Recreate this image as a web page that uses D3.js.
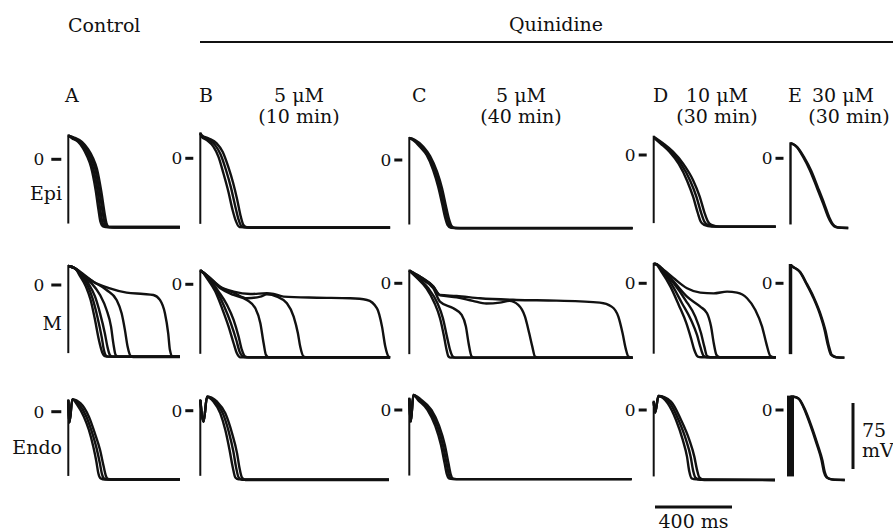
<!DOCTYPE html>
<html>
<head>
<meta charset="utf-8">
<script src="https://cdn.jsdelivr.net/npm/d3@7"></script>
<style>
  body { margin: 0; background: #fff; }
  svg { display: block; }
  text { font-family: "DejaVu Serif", serif; fill: #111; }
</style>
</head>
<body>
<svg width="893" height="532"></svg>
<script>
// ---- labels ----
var columns = ["A", "B", "C", "D", "E"];
var doses = ["", "5 \u03bcM", "5 \u03bcM", "10 \u03bcM", "30 \u03bcM"];
var doseTimes = ["", "(10 min)", "(40 min)", "(30 min)", "(30 min)"];
var rowNames = ["Epi", "M", "Endo"];
var scaleBarMs = 400, scaleBarMv = 75;

// record length of each column (ms)
var recordMs = [580, 986, 1160, 634, 300];

// ---- traces, [ms, mV] ----
var epiA = [
  [[0,27],[19,24],[50,20],[76,12.8],[97,3.8],[118,-8.7],[142,-35],[157,-57.6],[167,-71],[180,-76.1],[206,-77],[580,-77]],
  [[0,27],[22,24.2],[57,19.9],[85,12.5],[107,3],[128,-9.5],[152,-35.8],[167,-58.5],[177,-71.5],[190,-76.4],[216,-77],[580,-77]],
  [[0,27],[26,24.5],[64,19.8],[93,12],[118,2.2],[139,-10.2],[162,-36.6],[178,-59.6],[188,-72],[201,-76.8],[227,-77.3],[580,-77.3]],
  [[0,27],[30,24.8],[71,19.7],[102,11.7],[128,1.5],[149,-11],[172,-37.5],[188,-60.6],[198,-72.4],[211,-77],[237,-77.5],[580,-77.5]]
];
var epiB = [
  [[0,28.4],[7,24.5],[33,20.8],[68,13.2],[94,1.9],[120,-17],[146,-38],[168,-59],[186,-72],[203,-78],[258,-78.5],[986,-78.5]],
  [[0,28.4],[7,25.5],[38,21.8],[77,15],[105,4.6],[133,-13],[159,-33],[180,-53],[198,-69],[213,-77],[230,-78.4],[270,-78.7],[986,-78.7]],
  [[0,28.4],[7,26.5],[42,22.7],[85,17],[116,7.4],[145,-9.5],[171,-28.4],[192,-47.3],[210,-66],[224,-75.8],[241,-78.4],[284,-79],[986,-79]]
];
var epiC = [
  [[0,25],[19,22.7],[55,15.1],[90,5.7],[124,-11.4],[150,-30.3],[170,-49.2],[185,-64.4],[199,-73.9],[216,-77],[263,-77.3],[1160,-77.3]],
  [[0,25],[25,22.7],[64,15.1],[99,5.1],[134,-12.3],[160,-31.2],[180,-50.1],[195,-65.3],[210,-74.5],[227,-77.1],[276,-77.4],[1160,-77.4]],
  [[0,25],[30,22.7],[73,15.1],[108,4.5],[144,-13.3],[170,-32.2],[189,-51.1],[205,-66.3],[220,-75],[238,-77.3],[290,-77.6],[1160,-77.6]]
];
var epiD = [
  [[0,19.9],[36,13],[83,3.4],[130,-10.2],[174,-29.5],[205,-47.7],[229,-65.9],[244,-75.6],[262,-79.5],[301,-81.4],[634,-81.4]],
  [[0,20.3],[42,13.1],[92,3.6],[141,-9.8],[189,-29],[222,-47.5],[247,-66.1],[263,-75.7],[281,-79.5],[322,-81.4],[634,-81.4]],
  [[0,20.8],[48,13.3],[100,3.8],[152,-9.5],[204,-28.4],[239,-47.3],[265,-66.3],[282,-75.8],[300,-79.5],[343,-81.4],[634,-81.4]]
];
var epiE = [
  [[0,17],[5,17],[31,13.2],[65,1.8],[100,-13.3],[135,-32.2],[169,-51.1],[195,-66.3],[213,-73.9],[239,-78.4],[300,-79.2]],
  [[0,17],[8,16.5],[36,12.5],[71,1],[107,-14],[142,-33],[176,-52],[201,-67],[219,-74.5],[245,-78.6],[300,-79.2]]
];
var mA = [
  [[0,21.6],[35,18.9],[61,10.2],[92,-1.9],[116,-17],[139,-39.8],[159,-62.5],[175,-75.8],[190,-80.7],[208,-81.4],[580,-81.4]],
  [[0,21.6],[35,18.9],[69,10.2],[99,0],[126,-15.2],[151,-36],[173,-58.7],[185,-73.9],[199,-80.7],[216,-81.4],[580,-81.4]],
  [[0,21.6],[35,18.9],[69,11.4],[104,1.9],[139,-13.3],[165,-32.2],[190,-55],[203,-70],[216,-79.5],[230,-81.4],[580,-81.4]],
  [[0,21.6],[35,18.9],[78,9.5],[121,1.9],[165,-11.4],[199,-28.4],[222,-47.3],[234,-66.3],[246,-79.5],[260,-81.4],[580,-81.4]],
  [[0,21.6],[35,18.9],[78,11.4],[130,3.8],[199,-5.7],[251,-17],[277,-32.2],[294,-51],[308,-70],[324,-80.7],[338,-81.8],[580,-81.8]],
  [[0,21.6],[35,18.9],[61,15.2],[130,3.8],[216,-3.8],[303,-8.7],[390,-10.2],[442,-11.4],[476,-17],[502,-32.2],[519,-55],[528,-73.9],[542,-81.4],[580,-81.4]]
];
var mB = [
  [[0,15.5],[8.7,14.4],[35,6.8],[78,-8.3],[113,-27.3],[147,-48.1],[173,-67],[190,-78.4],[208,-83],[986,-83]],
  [[0,15.5],[8.7,14.4],[38,6.8],[87,-8.3],[125,-25.4],[159,-44.3],[187,-63.3],[204,-76.5],[222,-82.2],[239,-83],[986,-83]],
  [[0,15.5],[8.7,14.4],[43,6.8],[95,-8.3],[139,-23.5],[173,-40.5],[199,-59.5],[216,-74.6],[234,-82.2],[251,-83],[986,-83]],
  [[0,15.5],[8.7,14.4],[43,8],[104,-4.5],[173,-12.1],[242,-17.8],[286,-27.3],[312,-44.3],[329,-67],[341,-80.3],[355,-83],[986,-83]],
  [[0,15.5],[8.7,14.4],[43,8.7],[104,-3.4],[173,-9.5],[242,-15.9],[312,-14],[346,-11.4],[398,-14],[450,-21.6],[485,-36.7],[507,-55.7],[519,-70.8],[537,-82.2],[554,-83],[986,-83]],
  [[0,15.5],[8.7,14.4],[43,8.7],[104,-2.7],[173,-8.3],[260,-11],[346,-10.2],[381,-11],[433,-14],[606,-15.2],[779,-15.9],[866,-17.8],[918,-27.3],[944,-48.1],[961,-70.8],[978,-82.2],[986,-83]]
];
var mC = [
  [[0,14.4],[40,6],[90,-6],[130,-22],[160,-40],[180,-60],[193,-75],[203,-83],[215,-84.5],[1160,-84.5]],
  [[0,14.4],[45,6],[100,-6],[145,-22],[175,-40],[197,-62],[212,-76],[225,-83],[240,-84.5],[1160,-84.5]],
  [[0,14.4],[55,5.7],[125,-5.7],[159,-20.8],[229,-28.4],[272,-36],[294,-49.2],[308,-68.2],[324,-83.3],[340,-84.5],[1160,-84.5]],
  [[0,14.4],[55,7.6],[125,-3.8],[159,-13.5],[246,-16],[330,-20],[400,-23],[470,-22],[520,-20],[566,-24.6],[601,-37.9],[623,-56.8],[639,-72],[653,-83.3],[670,-84.5],[1160,-84.5]],
  [[0,14.4],[55,7.6],[125,-3.8],[159,-13.3],[246,-14.4],[367,-17],[557,-18.9],[765,-19.7],[990,-22],[1051,-26.5],[1086,-37.9],[1108,-56.8],[1124,-73.9],[1138,-83.3],[1155,-84.5],[1160,-84.5]]
];
var mD = [
  [[0,22],[8.7,22],[43,12.1],[87,-3.8],[130,-24.6],[170,-45.5],[194,-62.5],[211,-75.8],[229,-83.3],[246,-84],[634,-84]],
  [[0,22],[8.7,22],[48,13.3],[95,-1.9],[147,-22.7],[194,-41.7],[225,-58.7],[242,-72],[260,-82.6],[277,-84],[634,-84]],
  [[0,22],[8.7,22],[52,13.3],[104,0],[165,-19],[216,-37.9],[246,-56.8],[263,-72],[277,-82.6],[294,-84],[634,-84]],
  [[0,22],[8.7,22],[52,14.4],[104,1.9],[173,-15.2],[242,-26.5],[277,-34],[298,-49.2],[312,-68.2],[326,-81.4],[343,-84],[634,-84]],
  [[0,22],[8.7,22],[52,15.2],[104,5.7],[173,-5.7],[242,-10.6],[312,-11.4],[381,-9.5],[433,-10.6],[485,-17],[528,-30.3],[563,-49.2],[585,-68.2],[606,-82.6],[623,-84],[634,-84]]
];
var mE = [
  [[0,20.8],[12,18.9],[47,13.3],[81,0],[116,-15.2],[151,-34],[177,-53],[194,-70],[211,-81.4],[237,-84],[280,-84.5]],
  [[0,20.8],[14,18.5],[51,12.5],[86,-1],[121,-16],[156,-35],[182,-54],[199,-71],[216,-81.8],[242,-84.2],[280,-84.5]]
];
var endoA = [
  [[0,13],[6,-12],[21,14],[47,7.6],[81,-5.7],[107,-20.8],[130,-39.8],[146,-56.8],[156,-70],[168,-75.8],[190,-77],[580,-77]],
  [[0,13],[6,-12],[21,14],[55,8.6],[94,-5.7],[122,-22.7],[147,-41.7],[164,-58.7],[175,-71],[187,-76.2],[208,-77],[580,-77]],
  [[0,13],[6,-12],[21,14],[64,9.5],[107,-5.7],[138,-24.6],[165,-43.6],[182,-60.6],[194,-72],[206,-76.5],[225,-77],[580,-77]]
];
var endoB = [
  [[0,12],[17,-12.5],[35,15.9],[69,10.2],[104,-3],[130,-22],[152,-44.7],[168,-63.6],[182,-75.8],[199,-78],[980,-78]],
  [[0,12],[17,-12.5],[35,15.9],[78,10.2],[117,-3],[148,-24],[172,-46.6],[186,-64.5],[199,-75.8],[216,-78.4],[980,-78.4]],
  [[0,12],[17,-12.5],[35,15.9],[87,10.2],[130,-3],[165,-25.8],[191,-48.5],[204,-65.5],[216,-75.8],[234,-78.8],[980,-78.8]]
];
var endoC = [
  [[0,13],[8,-13],[21,17],[47,11],[95,0],[135,-18],[165,-40],[183,-60],[195,-73],[208,-78],[225,-78.5],[1155,-78.5]],
  [[0,13],[8,-13],[21,17],[53,11.5],[105,0],[145,-18],[175,-40],[193,-60],[205,-73],[218,-78],[235,-78.5],[1155,-78.5]],
  [[0,13],[8,-13],[21,17],[60,12],[115,0],[155,-18],[185,-40],[203,-60],[215,-73],[228,-78],[245,-78.5],[1155,-78.5]]
];
var endoD = [
  [[0,9.5],[7,-3],[25,15.9],[73,7.6],[116,-11.4],[151,-34],[173,-53],[185,-70],[197,-77.7],[220,-78.8],[630,-79.5]],
  [[0,9.5],[7,-3],[25,15.9],[82,8.5],[129,-11.4],[168,-34],[192,-53],[205,-69],[217,-77],[241,-79.2],[630,-79.5]],
  [[0,9.5],[7,-3],[25,15.9],[90,9.5],[142,-11.4],[185,-34],[211,-53],[225,-68],[237,-76.5],[263,-79.5],[630,-79.5]]
];
var endoE = [
  [[0,15.2],[14,15.2],[40,13.3],[66,3.8],[100,-15.2],[135,-37.9],[161,-56.8],[173,-70],[187,-76.5],[213,-78.8],[282,-79.5]],
  [[0,15.2],[16,15],[44,12.6],[70,3],[105,-16],[140,-38.7],[166,-57.5],[178,-70.5],[192,-77],[218,-79],[282,-79.5]]
];
var traces = [
  [epiA, epiB, epiC, epiD, epiE],
  [mA, mB, mC, mD, mE],
  [endoA, endoB, endoC, endoD, endoE]
];

// ---- layout ----
var MS_PX = 0.1925, MV_PX = 0.88;
var colX = [68.3, 200.3, 409.3, 653.7, 790.5];
var zeroY = [
  [159.3, 158.3, 160, 155, 158.3],
  [285, 284.3, 283.3, 283.3, 283.3],
  [411.7, 410.7, 410, 410, 410]
];
var rowLabelY = [200, 330, 454];
var upstrokeWidth = [[2,2,2,2,2.4],[2,2,2,2,3.5],[2,2,2,2,7]];

var svg = d3.select("svg");

/*  HEADER  */
svg.append("text").attr("x", 68).attr("y", 32).style("font-size", "19px").text("Control");
svg.append("text").attr("x", 556).attr("y", 31).attr("text-anchor", "middle").style("font-size", "19px").text("Quinidine");
svg.append("line").attr("x1", 200).attr("x2", 893).attr("y1", 42).attr("y2", 42)
  .attr("stroke", "#111").attr("stroke-width", 2);

var letterX = [65, 199, 412, 653, 788];
var doseX = [0, 299, 521, 717, 843];
var doseTimeX = [0, 299, 521, 717, 849];
columns.forEach(function(c, i) {
  svg.append("text").attr("x", letterX[i]).attr("y", 102).style("font-size", "19px").text(c);
  if (doses[i]) {
    svg.append("text").attr("x", doseX[i]).attr("y", 102).attr("text-anchor", "middle")
      .style("font-size", "19px").text(doses[i]);
    svg.append("text").attr("x", doseTimeX[i]).attr("y", 123).attr("text-anchor", "middle")
      .style("font-size", "19px").text(doseTimes[i]);
  }
});

rowNames.forEach(function(r, i) {
  svg.append("text").attr("x", 62).attr("y", rowLabelY[i]).attr("text-anchor", "end")
    .style("font-size", "19px").text(r);
});

/*  PANELS  */
function drawPanel(r, c) {
  var data = traces[r][c];
  var x = d3.scaleLinear().domain([0, recordMs[c]]).range([colX[c], colX[c] + recordMs[c] * MS_PX]);
  var y = d3.scaleLinear().domain([0, -75]).range([zeroY[r][c], zeroY[r][c] + 75 * MV_PX]);
  var g = svg.append("g");

  var peak = d3.max(data, function(t) { return t[0][1]; });
  var rest = d3.max(data, function(t) { return t[t.length - 1][1]; });
  g.append("line")
    .attr("x1", x(0)).attr("x2", x(0))
    .attr("y1", y(rest + 4)).attr("y2", y(peak) - 1)
    .attr("stroke", "#111").attr("stroke-width", upstrokeWidth[r][c]);

  var line = d3.line()
    .x(function(d) { return x(d[0]); })
    .y(function(d) { return y(d[1]); })
    .curve(d3.curveMonotoneX);

  g.selectAll("path").data(data).enter().append("path")
    .attr("d", line)
    .attr("fill", "none")
    .attr("stroke", "#111")
    .attr("stroke-width", 2.4)
    .attr("stroke-linejoin", "round");

  // zero tick
  var t0 = c === 0 ? 17 : 15;
  var lx = c === 0 ? 24 : 18;
  g.append("line")
    .attr("x1", x(0) - t0).attr("x2", x(0) - 7)
    .attr("y1", y(0)).attr("y2", y(0))
    .attr("stroke", "#111").attr("stroke-width", 3);
  g.append("text")
    .attr("x", x(0) - lx).attr("y", y(0) + 6)
    .attr("text-anchor", "end").style("font-size", "17px").text("0");
}

for (var r = 0; r < 3; r++)
  for (var c = 0; c < 5; c++)
    drawPanel(r, c);

/*  SCALE BARS  */
var mvLen = scaleBarMv * MV_PX;
var msLen = scaleBarMs * MS_PX;
svg.append("line").attr("x1", 853).attr("x2", 853).attr("y1", 403).attr("y2", 403 + mvLen)
  .attr("stroke", "#111").attr("stroke-width", 3);
svg.append("text").attr("x", 862).attr("y", 437).style("font-size", "19px").text(scaleBarMv);
svg.append("text").attr("x", 862).attr("y", 457).style("font-size", "19px").text("mV");
svg.append("line").attr("x1", 655).attr("x2", 655 + msLen).attr("y1", 507).attr("y2", 507)
  .attr("stroke", "#111").attr("stroke-width", 3);
svg.append("text").attr("x", 655 + msLen / 2).attr("y", 528).attr("text-anchor", "middle")
  .style("font-size", "19px").text(scaleBarMs + " ms");
</script>
</body>
</html>
